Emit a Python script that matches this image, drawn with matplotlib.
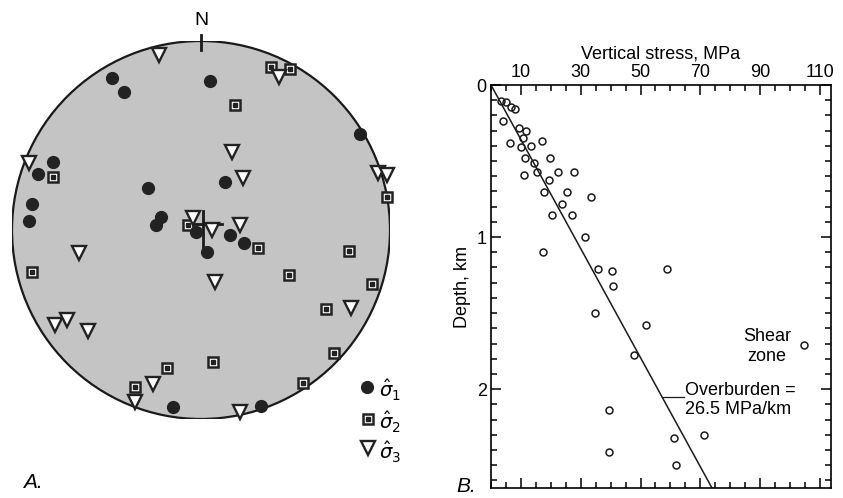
import numpy as np
import matplotlib
matplotlib.use('Agg')
import matplotlib.pyplot as plt
from matplotlib.ticker import MultipleLocator

plt.rcParams['font.family'] = ['Liberation Sans', 'DejaVu Sans']

# --- panel A: principal stress axes, positions in the unit stereonet (x east, y north)
s1_x = [-0.472, -0.406, 0.048, 0.841, -0.785, -0.864, -0.279, 0.129, -0.894, -0.912,
        -0.212, -0.240, -0.026, 0.153, 0.228, 0.030, -0.147, 0.317]
s1_y = [0.806, 0.732, 0.788, 0.508, 0.361, 0.296, 0.221, 0.256, 0.138, 0.049,
        0.067, 0.026, -0.009, -0.026, -0.070, -0.115, -0.935, -0.930]

s2_x = [0.369, 0.471, 0.180, -0.785, 0.983, -0.067, 0.299, 0.785, -0.893, 0.464,
        0.903, 0.661, 0.705, 0.065, -0.181, -0.349, 0.541]
s2_y = [0.864, 0.852, 0.661, 0.282, 0.176, 0.026, -0.093, -0.110, -0.221, -0.238,
        -0.287, -0.420, -0.649, -0.700, -0.732, -0.829, -0.811]

s3_x = [-0.221, 0.414, 0.162, -0.908, 0.224, 0.938, 0.983, -0.041, 0.057, 0.206,
        -0.644, 0.074, -0.772, -0.711, -0.596, 0.792, -0.256, -0.349, 0.206]
s3_y = [0.926, 0.808, 0.414, 0.353, 0.274, 0.300, 0.291, 0.062, 0.0, 0.026,
        -0.123, -0.274, -0.503, -0.476, -0.533, -0.414, -0.815, -0.912, -0.961]

# --- panel B: vertical stress (MPa) vs depth (km)
stress = [3.3, 5.0, 6.7, 8.0, 3.9, 9.5, 11.7, 10.8, 6.4, 10.0, 13.3, 17.0, 11.4, 14.5,
          19.7, 11.0, 15.3, 22.3, 27.8, 19.4, 17.8, 25.3, 23.6, 33.4, 20.3, 27.0, 31.4,
          17.5, 35.9, 40.4, 59.0, 40.7, 34.8, 51.7, 47.8, 104.7, 39.5, 61.3, 71.2, 39.5, 61.8]
depth = [0.105, 0.11, 0.147, 0.16, 0.237, 0.28, 0.30, 0.347, 0.384, 0.41, 0.40, 0.366, 0.48, 0.51,
         0.48, 0.59, 0.574, 0.574, 0.574, 0.625, 0.706, 0.706, 0.78, 0.735, 0.855, 0.855, 0.998,
         1.097, 1.21, 1.22, 1.21, 1.32, 1.50, 1.58, 1.776, 1.71, 2.14, 2.32, 2.30, 2.41, 2.50]
overburden_x = [0, 73.9]
overburden_y = [0, 2.65]
xtick_vals = [10, 30, 50, 70, 90, 110]

fig = plt.figure(figsize=(8.43, 4.98), dpi=100)

# panel A
axA = fig.add_axes([12/843, 79/498, 378/843, 378/498])
axA.set_xlim(-1, 1)
axA.set_ylim(-1, 1)
axA.set_aspect('equal')
axA.axis('off')
axA.add_patch(plt.Circle((0, 0), 1, facecolor='#c4c4c4', edgecolor='#1a1a1a', lw=1.6, zorder=1))
axA.plot([0, 0], [0.955, 1.03], color='#1a1a1a', lw=2, clip_on=False, zorder=2)
axA.plot([-0.06, 0.11], [0.03, 0.03], color='#1a1a1a', lw=2, zorder=2)
axA.plot([0.012, 0.012], [-0.09, 0.1], color='#1a1a1a', lw=2, zorder=2)
axA.text(0, 1.11, 'N', ha='center', va='center', fontsize=14)

sq_kw = dict(marker='s', ms=7.5, mfc='white', mec='#222222', mew=1.8, ls='none', clip_on=False)
axA.plot(s2_x, s2_y, zorder=3, **sq_kw)
axA.plot(s2_x, s2_y, marker='s', ms=2.2, color='#222222', ls='none', clip_on=False, zorder=3)
tri_kw = dict(marker='v', ms=9.5, mfc='white', mec='#222222', mew=1.7, ls='none', clip_on=False)
axA.plot(s3_x, s3_y, zorder=4, **tri_kw)
dot_kw = dict(marker='o', ms=8.5, color='#222222', ls='none', clip_on=False)
axA.plot(s1_x, s1_y, zorder=5, **dot_kw)

# legend
leg_y = [-0.829, -1.0, -1.155]
axA.plot(0.877, leg_y[0], zorder=5, **dot_kw)
axA.plot(0.882, leg_y[1], zorder=5, **sq_kw)
axA.plot(0.882, leg_y[1], marker='s', ms=2.2, color='#222222', clip_on=False, zorder=5)
axA.plot(0.885, leg_y[2], zorder=5, **tri_kw)
for i, yy in enumerate(leg_y):
    axA.text(0.94, yy - 0.02, r'$\hat{\sigma}_%d$' % (i + 1), fontsize=14, ha='left', va='center',
             clip_on=False)

fig.text(33/843, 1 - 482/498, 'A.', fontsize=15, style='italic', ha='center', va='center')
fig.text(466/843, 1 - 486/498, 'B.', fontsize=15, style='italic', ha='center', va='center')

# panel B
axB = fig.add_axes([491/843, 10/498, 340/843, 403/498])
axB.plot(stress, depth, 'o', ms=5, mfc='none', mec='#1a1a1a', mew=1.1)
axB.plot(overburden_x, overburden_y, color='#1a1a1a', lw=1.1)
axB.plot([57.6, 64.5], [2.05, 2.05], color='#1a1a1a', lw=0.9)
axB.set_xlim(0, 113.7)
axB.set_ylim(2.65, 0)
axB.set_xticks(xtick_vals)
axB.set_yticks([0, 1, 2])
axB.set_yticklabels(['0', '1', '2'])
axB.xaxis.set_minor_locator(MultipleLocator(5))
axB.yaxis.set_minor_locator(MultipleLocator(0.1))
axB.tick_params(which='both', direction='in', top=True, bottom=True, left=True, right=True,
                labeltop=True, labelbottom=False, labelsize=13, width=1.1)
axB.tick_params(which='major', length=7, pad=3)
axB.tick_params(which='minor', length=4)
axB.xaxis.set_label_position('top')
axB.set_xlabel('Vertical stress, MPa', fontsize=13, labelpad=4)
axB.set_ylabel('Depth, km', fontsize=13, labelpad=4)
for s in axB.spines.values():
    s.set_linewidth(1.2)

axB.text(92.3, 1.72, 'Shear\nzone', fontsize=13, ha='center', va='center', linespacing=1.2)
axB.text(64.9, 2.07, 'Overburden =\n26.5 MPa/km', fontsize=13, ha='left', va='center',
         linespacing=1.15)

fig.savefig('out.png', dpi=100)
